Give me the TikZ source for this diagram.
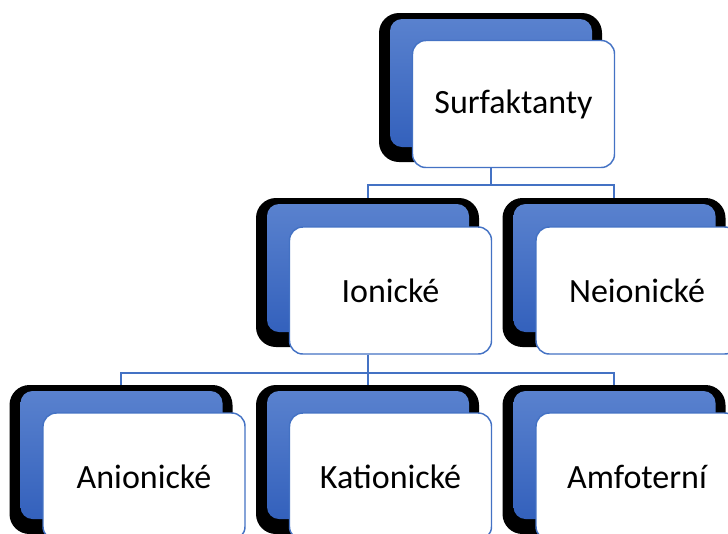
\documentclass[tikz,border=0pt]{standalone}
\usepackage{fontspec}
\setmainfont{Carlito}
\definecolor{blueTop}{HTML}{5B83CF}
\definecolor{blueBot}{HTML}{2F5DBA}
\definecolor{boxline}{HTML}{4472C4}
\tikzset{every picture/.style={line width=0.75pt}}
\tikzset{
  backbox/.style={rectangle, rounded corners=15pt, fill=black, inner sep=0pt,
    minimum width=167.25pt, minimum height=111.75pt,
    path picture={\fill[rounded corners=9pt, top color=blueTop, bottom color=blueBot]
      ([xshift=8.25pt,yshift=-4.5pt]path picture bounding box.north west) rectangle
      ([xshift=-7.5pt,yshift=11.25pt]path picture bounding box.south east);}},
  frontbox/.style={rectangle, rounded corners=10pt, draw=boxline, line width=1.1pt,
    fill=white, inner sep=0pt, minimum width=151.5pt, minimum height=95.25pt,
    font=\fontsize{25.5}{30}\selectfont},
  link/.style={draw=boxline, line width=1.5pt},
}

\begin{document}
\begin{tikzpicture}[x=0.75pt,y=0.75pt,yscale=-1,xscale=1]
\useasboundingbox (0,0) rectangle (728,533);
\clip (0,0) rectangle (728,533);

% Level 1
\node [backbox] (surfback) at (490.5,87.5) {};
\node [frontbox] (surf) at (513.5,104) {Surfaktanty};

% Level 2
\node [backbox] (ionback) at (367.5,272.5) {};
\node [frontbox] (ion) at (390.5,290.5) {Ionické};
\node [backbox] (neionback) at (614,272.5) {};
\node [frontbox] (neion) at (637,290.5) {Neionické};

% Level 3
\node [backbox] (anionback) at (121,459.5) {};
\node [frontbox] (anion) at (144,476.5) {Anionické};
\node [backbox] (kationback) at (367.5,459.5) {};
\node [frontbox] (kation) at (390.5,476.5) {Kationické};
\node [backbox] (amfoback) at (614,459.5) {};
\node [frontbox] (amfo) at (637,476.5) {Amfoterní};

% Connectors
\coordinate (busA) at (490.5,185);
\draw [link] (surfback.south |- surf.south) -- (busA);
\draw [link] (busA) -| (ionback.north);
\draw [link] (busA) -| (neionback.north);

\coordinate (busB) at (367.5,373);
\draw [link] (ionback.south |- ion.south) -- (busB);
\draw [link] (busB) -| (anionback.north);
\draw [link] (busB) -| (kationback.north);
\draw [link] (busB) -| (amfoback.north);
\end{tikzpicture}
\end{document}
